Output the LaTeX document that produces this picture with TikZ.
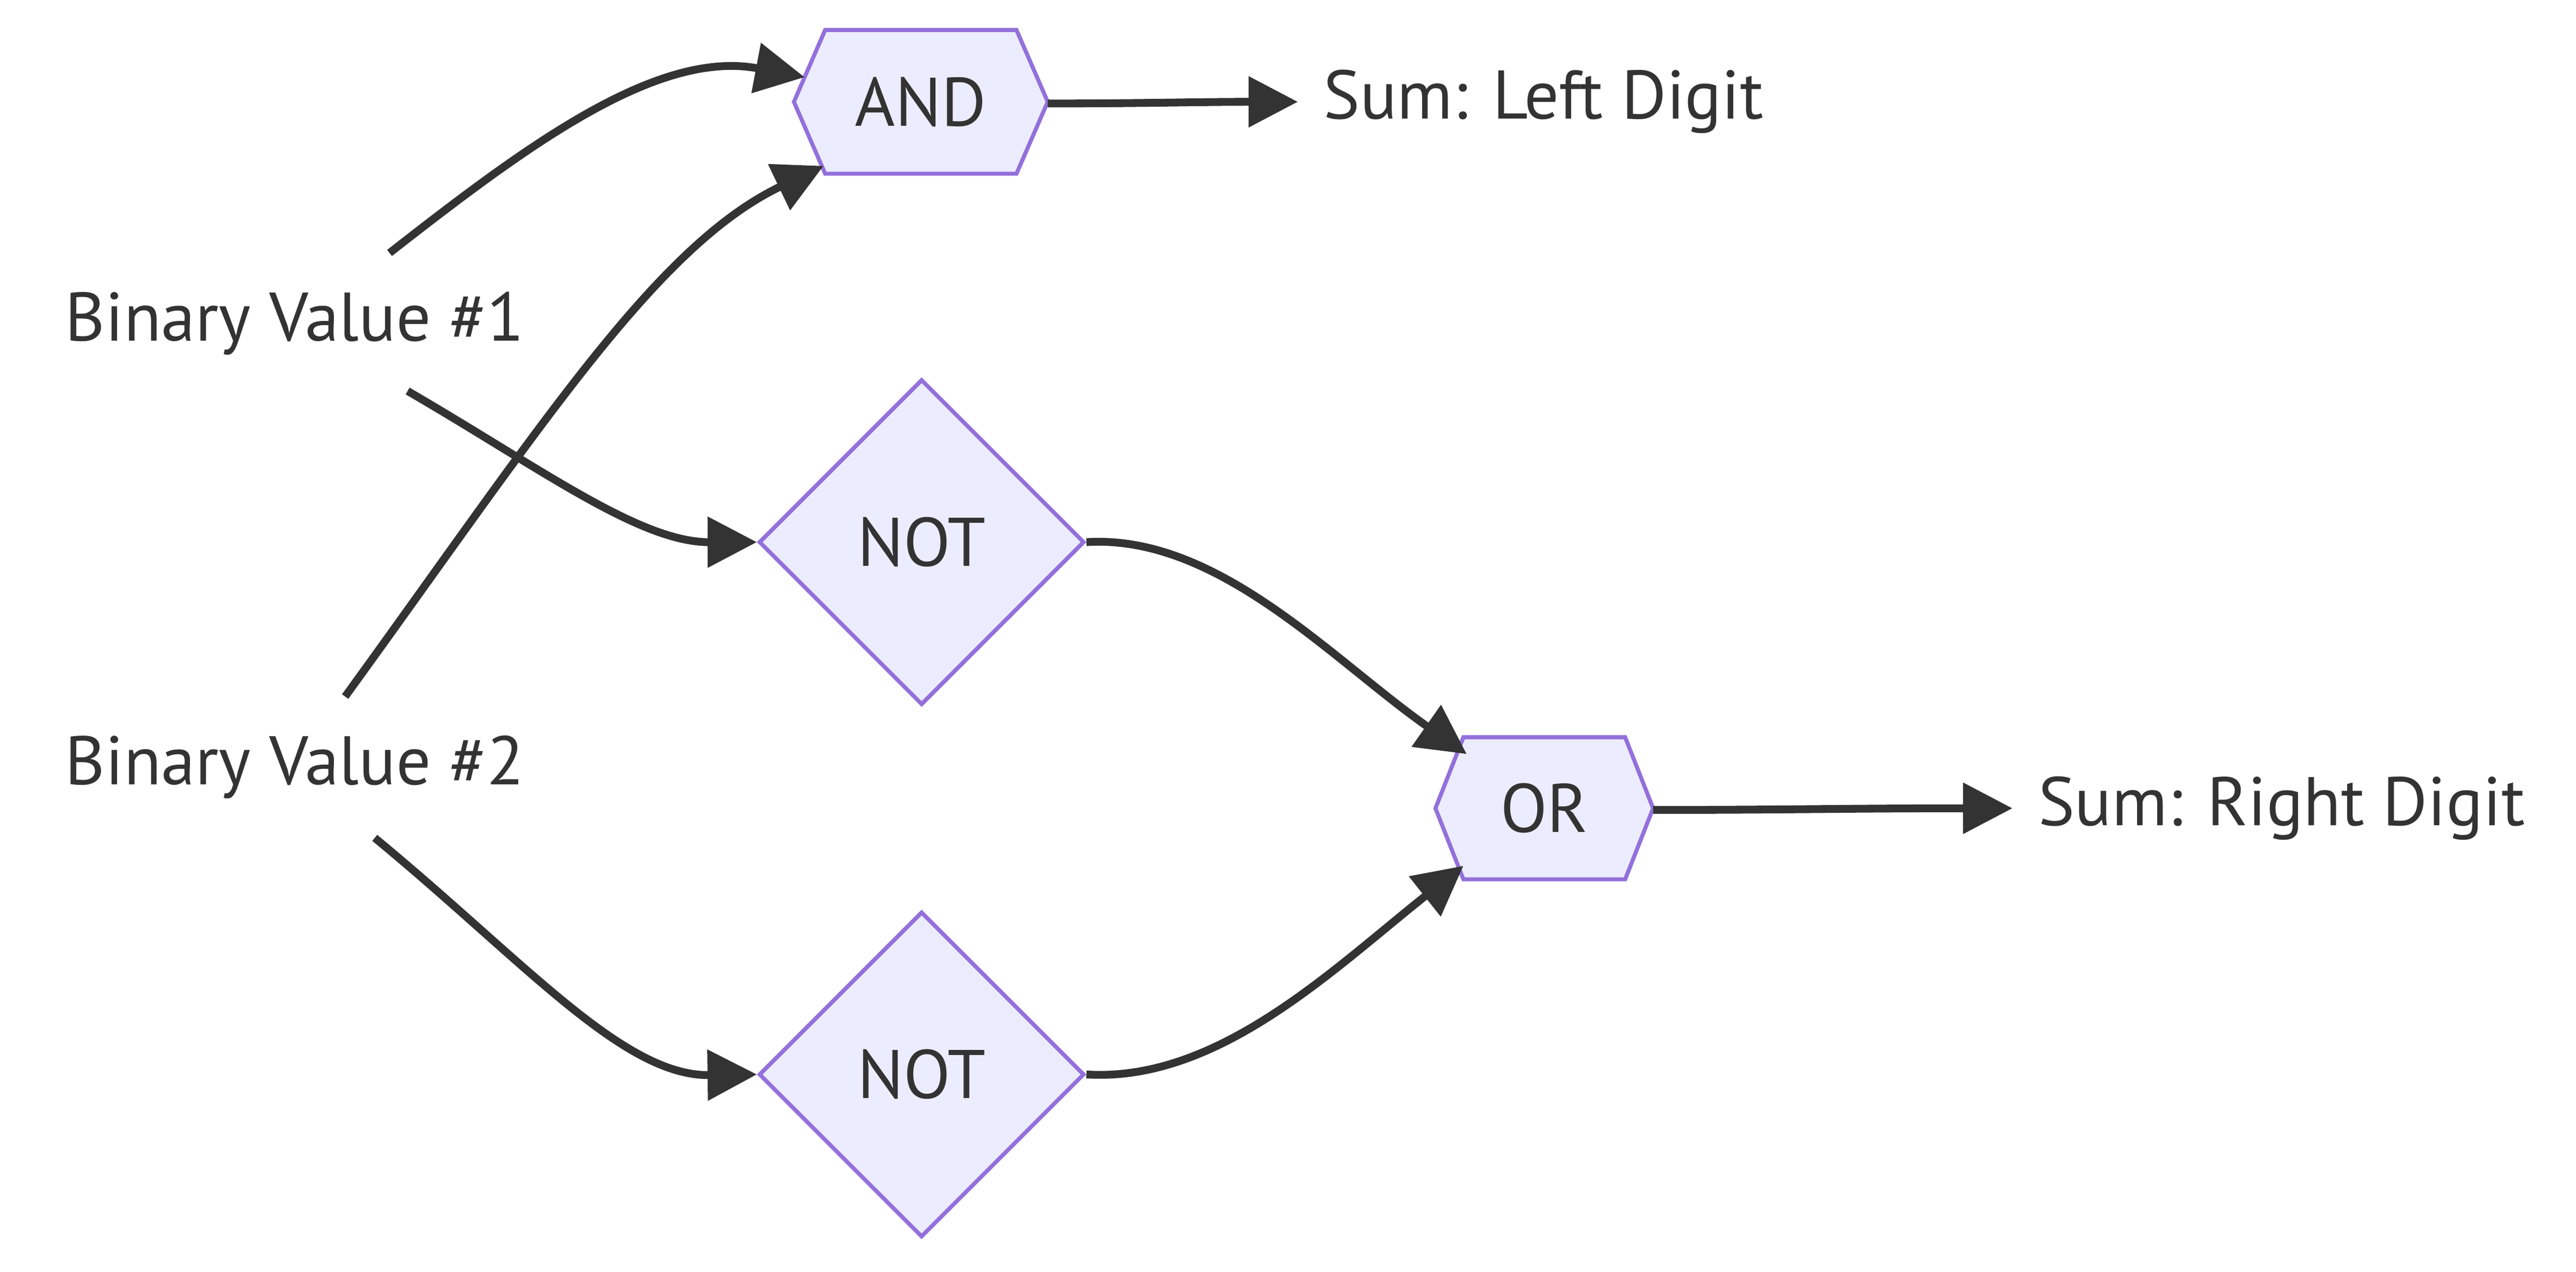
\documentclass[tikz,border=0pt]{standalone}
\usepackage{fontspec}
\setmainfont{PT Sans}
\usetikzlibrary{arrows.meta,shapes.geometric}
\definecolor{txt}{HTML}{333333}
\definecolor{nfill}{HTML}{ECECFF}
\definecolor{nborder}{HTML}{9370DB}
\pgfdeclarelayer{background}
\pgfsetlayers{background,main}
\tikzset{
  lbl/.style={inner sep=0pt, text=txt, font=\fontsize{11.9pt}{13pt}\selectfont},
  gate/.style={lbl, draw=none, minimum width=#1, minimum height=0.86cm},
  hexshape/.style={fill=nfill, draw=nborder, line width=0.7pt, line join=miter},
  notbox/.style={lbl, diamond, aspect=1, fill=nfill, draw=nborder, line width=0.7pt, minimum width=1.98cm, minimum height=1.98cm},
  wire/.style={draw=txt, line width=1.35pt, -{Triangle[length=0.3cm,width=0.3cm]}},
}
\begin{document}
\begin{tikzpicture}[x=0.01cm, y=-0.01cm]
\useasboundingbox (0,0) rectangle (1568,774);
% text nodes
\node[lbl, anchor=west] (b1) at (39,197) {Binary Value \#1};
\node[lbl, anchor=west] (b2) at (39,467) {Binary Value \#2};
\node[lbl, anchor=west] (sl) at (805,62) {Sum: Left Digit};
\node[lbl, anchor=west] (sr) at (1240,492) {Sum: Right Digit};
% gates
\node[gate=1.53cm] (and) at (560.5,62) {AND};
\node[gate=1.31cm, minimum height=0.85cm] (or) at (940,492) {OR};
\node[notbox] (n1) at (561,330) {NOT};
\node[notbox] (n2) at (561,654) {NOT};
\begin{pgfonlayer}{background}
\draw[hexshape] (and.west) -- ([xshift=0.19cm]and.north west) -- ([xshift=-0.19cm]and.north east) -- (and.east) -- ([xshift=-0.19cm]and.south east) -- ([xshift=0.19cm]and.south west) -- cycle;
\draw[hexshape] (or.west) -- ([xshift=0.17cm]or.north west) -- ([xshift=-0.17cm]or.north east) -- (or.east) -- ([xshift=-0.17cm]or.south east) -- ([xshift=0.17cm]or.south west) -- cycle;
\end{pgfonlayer}
% connectors
\draw[wire] ([xshift=1.98cm,yshift=0.43cm]b1.west) .. controls ([xshift=2.8cm,yshift=1.07cm]b1.west) and ([xshift=3.6cm,yshift=1.67cm]b1.west) .. ([xshift=0.065cm,yshift=0.15cm]and.west);
\draw[wire] ([xshift=1.71cm,yshift=0.43cm]b2.west) .. controls ([xshift=2.9cm,yshift=2.07cm]b2.west) and ([xshift=3.6cm,yshift=3.17cm]b2.west) .. ([xshift=0.18cm,yshift=-0.39cm]and.west);
\draw[wire] ([xshift=2.09cm,yshift=-0.41cm]b1.west) .. controls ([xshift=2.9cm,yshift=-0.88cm]b1.west) and ([xshift=3.5cm,yshift=-1.33cm]b1.west) .. (n1.west);
\draw[wire] ([xshift=1.89cm,yshift=-0.43cm]b2.west) .. controls ([xshift=2.8cm,yshift=-1.18cm]b2.west) and ([xshift=3.4cm,yshift=-1.88cm]b2.west) .. (n2.west);
\draw[wire] (n1.east) .. controls ([xshift=0.8cm,yshift=0.05cm]n1.east) and ([xshift=1.5cm,yshift=-0.72cm]n1.east) .. ([xshift=0.19cm,yshift=0.33cm]or.west);
\draw[wire] (n2.east) .. controls ([xshift=0.8cm,yshift=-0.05cm]n2.east) and ([xshift=1.5cm,yshift=0.64cm]n2.east) .. ([xshift=0.17cm,yshift=-0.35cm]or.west);
\draw[wire] ([yshift=-0.01cm]and.east) .. controls ([xshift=0.6cm,yshift=-0.01cm]and.east) and ([xshift=0.9cm]and.east) .. ([xshift=-0.15cm]sl.west);
\draw[wire] ([yshift=-0.01cm]or.east) .. controls ([xshift=0.8cm,yshift=-0.01cm]or.east) and ([xshift=1.2cm]or.east) .. ([xshift=-0.15cm]sr.west);
\end{tikzpicture}
\end{document}
